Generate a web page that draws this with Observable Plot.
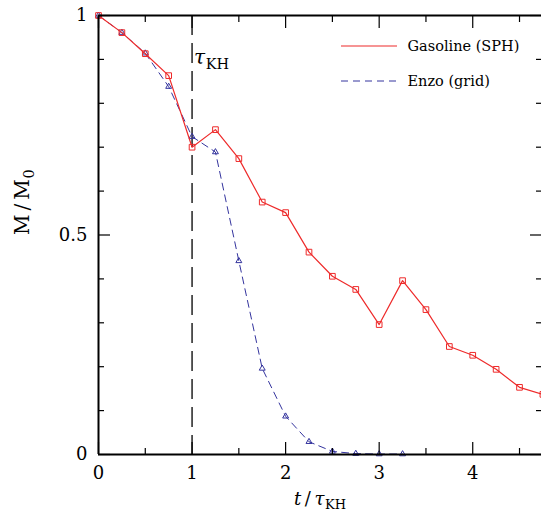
<!DOCTYPE html>
<html><head><meta charset="utf-8">
<script src="https://cdn.jsdelivr.net/npm/d3@7"></script>
<script src="https://cdn.jsdelivr.net/npm/@observablehq/plot@0.6"></script>
<style>
body{margin:0;background:#fff}
svg{font-family:"DejaVu Serif",serif}
svg text{font-family:"DejaVu Serif",serif}
</style>
</head><body><div id="chart"></div>
<script>
// ---- data ----
const tGasoline = [0, 0.25, 0.5, 0.75, 1, 1.25, 1.5, 1.75, 2, 2.25, 2.5, 2.75, 3, 3.25, 3.5, 3.75, 4, 4.25, 4.5, 4.75];
const mGasoline = [1.0, 0.961, 0.913, 0.863, 0.700, 0.740, 0.674, 0.575, 0.551, 0.461, 0.406, 0.376, 0.296, 0.396, 0.330, 0.246, 0.226, 0.194, 0.153, 0.137];
const tEnzo = [0, 0.25, 0.5, 0.75, 1, 1.25, 1.5, 1.75, 2, 2.25, 2.5, 2.75, 3, 3.25];
const mEnzo = [1.0, 0.961, 0.914, 0.838, 0.724, 0.689, 0.441, 0.196, 0.087, 0.029, 0.007, 0.002, 0.001, 0.001];
const xMajorTicks = [0, 1, 2, 3, 4];
const xMinorTicks = [0.5, 1.5, 2.5, 3.5, 4.5];
const yMajorTicks = [0, 0.5, 1];
const yMinorTicks = [0.1, 0.2, 0.3, 0.4, 0.6, 0.7, 0.8, 0.9];
const seriesNames = ["Gasoline (SPH)", "Enzo (grid)"];
const tauKH = [1];
const xLabel = "t / τKH";
const yLabel = "M / M0";
const tauLabel = "τKH";

const gas = tGasoline.map((t, i) => ({t, m: mGasoline[i]}));
const enzo = tEnzo.map((t, i) => ({t, m: mEnzo[i]}));

const red = "#ee2a2a", blue = "#34349e";
const tickFont = 18;
const serif = "DejaVu Serif";

const ticks = (anchor, major, minor, isX) => {
  const ax = isX ? Plot.axisX : Plot.axisY;
  return [
    ax(major, {anchor, tickSize: -12, text: null, strokeWidth: 1.2, label: null}),
    ax(minor, {anchor, tickSize: -6, text: null, strokeWidth: 1.2, label: null})
  ];
};

const chart = Plot.plot({
  width: 541, height: 517,
  marginLeft: 98, marginRight: 0, marginTop: 15, marginBottom: 63,
  x: {domain: [0, 4.735], label: null},
  y: {domain: [0, 1], label: null},
  style: {fontFamily: serif, fontSize: "18px", background: "white", color: "black"},
  marks: [
    Plot.ruleX(tauKH, {stroke: "black", strokeWidth: 1.3, strokeDasharray: "20,8"}),
    Plot.line(enzo, {x: "t", y: "m", stroke: blue, strokeWidth: 1, strokeDasharray: "7,5"}),
    Plot.dot(enzo, {x: "t", y: "m", symbol: "triangle", r: 2.2, stroke: blue, strokeWidth: 1}),
    Plot.line(gas, {x: "t", y: "m", stroke: red, strokeWidth: 1.2}),
    Plot.dot(gas, {x: "t", y: "m", symbol: "square", r: 3.2, stroke: red, strokeWidth: 1}),
    ...ticks("bottom", xMajorTicks, xMinorTicks, true),
    ...ticks("top", xMajorTicks, xMinorTicks, true),
    ...ticks("left", yMajorTicks, yMinorTicks, false),
    ...ticks("right", yMajorTicks, yMinorTicks, false),
    Plot.axisX(xMajorTicks, {anchor: "bottom", tickSize: 0, tickPadding: 12, fontSize: tickFont, label: null, tickFormat: d => `${d}`}),
    Plot.axisY(yMajorTicks, {anchor: "left", tickSize: 0, tickPadding: 11, fontSize: tickFont, label: null, tickFormat: d => `${d}`}),
    Plot.ruleX([0], {strokeWidth: 2}),
    Plot.ruleY([0], {strokeWidth: 2}),
    Plot.ruleY([1], {strokeWidth: 2}),
    Plot.text([seriesNames[0]], {text: d => d, frameAnchor: "top-left", dx: 309, dy: 31, textAnchor: "start", lineAnchor: "middle", fontSize: 14.5, fontFamily: serif}),
    Plot.text([seriesNames[1]], {text: d => d, frameAnchor: "top-left", dx: 309, dy: 66, textAnchor: "start", lineAnchor: "middle", fontSize: 14.5, fontFamily: serif}),
    Plot.text(tauKH, {x: d => d, text: () => tauLabel, frameAnchor: "top", dy: 48, dx: 2, textAnchor: "start", lineAnchor: "bottom", fontSize: 20, fontFamily: serif}),
    Plot.text([xLabel], {text: d => d, frameAnchor: "bottom", dy: 50, lineAnchor: "bottom", fontSize: 18, fontFamily: serif}),
    Plot.text([yLabel], {text: d => d, frameAnchor: "left", dx: -70, rotate: -90, lineAnchor: "bottom", fontSize: 20, fontFamily: serif})
  ]
});
document.getElementById("chart").appendChild(chart);

// rich text (italic / subscript)
const svg = d3.select(chart);
function rich(content, parts) {
  svg.selectAll("text").filter(function() { return this.textContent === content; }).each(function() {
    const el = d3.select(this);
    el.text(null);
    parts.forEach(p => {
      const ts = el.append("tspan").text(p.t);
      if (p.italic) ts.attr("font-style", "italic");
      if (p.sub) ts.attr("font-size", "0.72em").attr("dy", "0.35em").attr("dx", "0.05em");
    });
  });
}
rich(xLabel, [{t: "t", italic: true}, {t: "\u2009/\u2009"}, {t: "τ", italic: true}, {t: "KH", sub: true}]);
rich(yLabel, [{t: "M\u2009/\u2009M"}, {t: "0", sub: true}]);
rich(tauLabel, [{t: "τ", italic: true}, {t: "KH", sub: true}]);

// legend swatches
const frameLeft = 98, frameTop = 15;
const sw = [{y: frameTop + 31, stroke: red, dash: null, w: 1.2}, {y: frameTop + 66, stroke: blue, dash: "7,5", w: 1}];
sw.forEach(s => {
  svg.append("line").attr("x1", frameLeft + 243).attr("x2", frameLeft + 299).attr("y1", s.y).attr("y2", s.y)
    .attr("stroke", s.stroke).attr("stroke-width", s.w).attr("stroke-dasharray", s.dash);
});
</script>
</body></html>
